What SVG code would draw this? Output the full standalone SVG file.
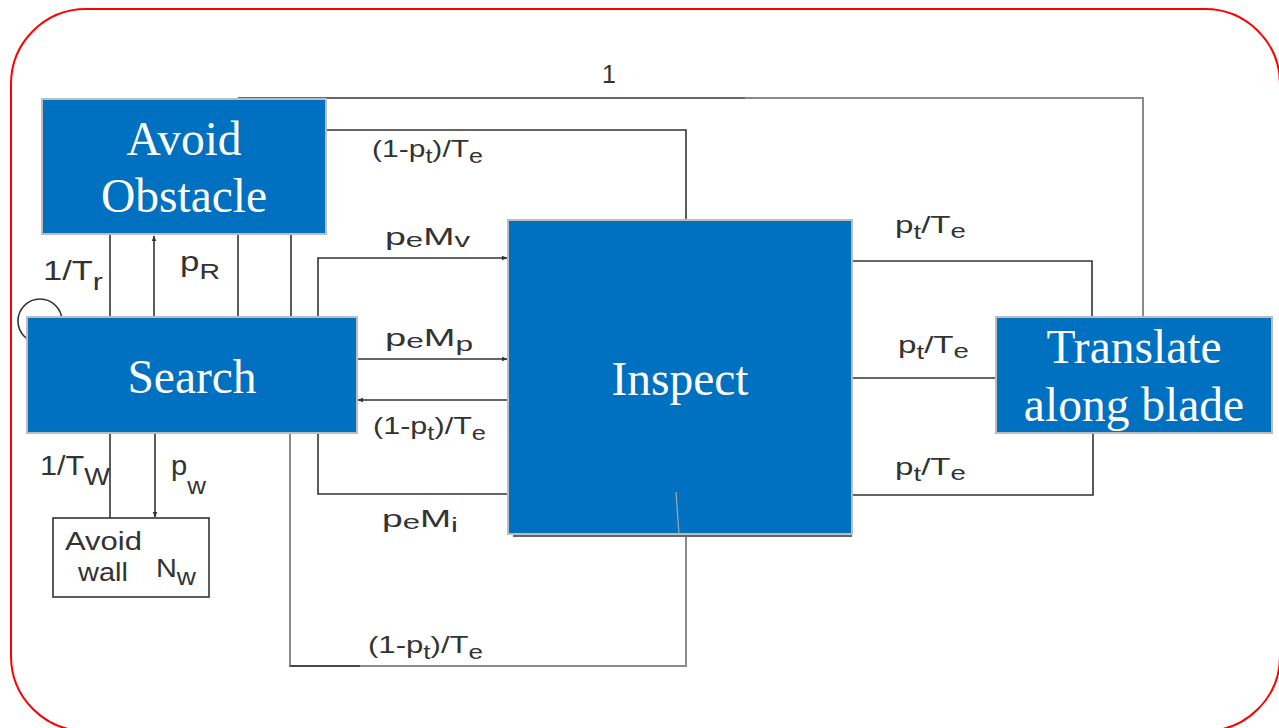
<svg xmlns="http://www.w3.org/2000/svg" width="1279" height="728" viewBox="0 0 1279 728">
<defs>
<style>
.node{fill:#0070C0;stroke:#bdbdbd;stroke-width:2}
.nt{font-family:"Liberation Serif","Times New Roman",serif;font-size:47.5px;fill:#ffffff;text-anchor:middle}
.ln{fill:none;stroke:#333;stroke-width:1.6}
.lg{fill:none;stroke:#8a8a8a;stroke-width:2}
.lb{font-family:"Liberation Sans",Arial,sans-serif;font-size:24px;fill:#333}
.s{font-size:20px}
</style>
<marker id="ah" viewBox="0 0 10 10" refX="9" refY="5" markerWidth="6" markerHeight="6" markerUnits="userSpaceOnUse" orient="auto">
<path d="M0,1 L10,5 L0,9 z" fill="#333"/>
</marker>
</defs>
<rect x="11" y="9" width="1269" height="722" rx="75" ry="75" fill="#ffffff" stroke="#ff0000" stroke-width="2"/>

<g id="connectors">
<path class="ln" d="M238 98 H745"/>
<path class="lg" d="M745 98 H1143 V317"/>
<path class="ln" d="M326 130 H686 V220"/>
<path class="ln" d="M110 234 V317"/>
<path class="ln" d="M154 317 V236" marker-end="url(#ah)"/>
<path class="ln" d="M238 234 V317"/>
<path class="ln" d="M291 234 V317"/>
<path class="ln" d="M318 317 V258 H507" marker-end="url(#ah)"/>
<path class="ln" d="M357 359 H507" marker-end="url(#ah)"/>
<path class="ln" d="M508 400 H358" marker-end="url(#ah)"/>
<path class="ln" d="M318 433 V494 H508"/>
<path class="lg" d="M290 433 V666 H686 V537"/>
<path class="ln" d="M290 666 H360"/>
<path class="ln" d="M513 536 H852"/>
<path class="ln" d="M852 261 H1092 V317"/>
<path class="ln" d="M852 378 H996"/>
<path class="ln" d="M852 495 H1093 V433"/>
<path class="ln" d="M110 433 V518"/>
<path class="ln" d="M155 433 V517" marker-end="url(#ah)"/>
<circle class="ln" cx="40" cy="321" r="22"/>
</g>

<g id="avoid-obstacle">
<rect class="node" x="42" y="99" width="284" height="135"/>
<text class="nt" x="184" y="155">Avoid</text>
<text class="nt" x="184" y="212">Obstacle</text>
</g>

<g id="search">
<rect class="node" x="27" y="317" width="330" height="116"/>
<text class="nt" x="192" y="393">Search</text>
</g>

<g id="inspect">
<rect class="node" x="508" y="220" width="344" height="314"/>
<text class="nt" x="680" y="395">Inspect</text>
<path d="M676 492 L679 534" stroke="#a8a8a8" stroke-width="1.2" fill="none"/>
</g>

<g id="translate">
<rect class="node" x="996" y="317" width="276" height="116"/>
<text class="nt" x="1134" y="363">Translate</text>
<text class="nt" x="1134" y="421">along blade</text>
</g>

<g id="avoid-wall">
<rect x="53" y="518" width="156" height="79" fill="#ffffff" stroke="#333" stroke-width="1.6"/>
<text class="lb" x="65" y="550" textLength="77" lengthAdjust="spacingAndGlyphs" style="font-size:26px">Avoid</text>
<text class="lb" x="78" y="581" textLength="50" lengthAdjust="spacingAndGlyphs" style="font-size:26px">wall</text>
<text class="lb" x="156" y="577" textLength="40" lengthAdjust="spacingAndGlyphs" style="font-size:25px">N<tspan dy="8" style="font-size:23px">w</tspan></text>
</g>

<g id="labels">
<text class="lb" x="609" y="83" text-anchor="middle" style="font-size:25px">1</text>
<text class="lb" x="372" y="157" textLength="111" lengthAdjust="spacingAndGlyphs">(1-p<tspan class="s" dy="6">t</tspan><tspan dy="-6">)/T</tspan><tspan class="s" dy="6">e</tspan></text>
<text class="lb" x="385" y="245" textLength="85" lengthAdjust="spacingAndGlyphs">p<tspan class="s" dy="2">e</tspan><tspan dy="-2">M</tspan><tspan class="s" dy="2">v</tspan></text>
<text class="lb" x="385" y="346" textLength="88" lengthAdjust="spacingAndGlyphs">p<tspan class="s" dy="2">e</tspan><tspan dy="-2">M</tspan><tspan class="s" dy="5">p</tspan></text>
<text class="lb" x="373" y="434" textLength="113" lengthAdjust="spacingAndGlyphs">(1-p<tspan class="s" dy="6">t</tspan><tspan dy="-6">)/T</tspan><tspan class="s" dy="6">e</tspan></text>
<text class="lb" x="382" y="527" textLength="76" lengthAdjust="spacingAndGlyphs">p<tspan class="s" dy="2">e</tspan><tspan dy="-2">M</tspan><tspan class="s" dy="5">i</tspan></text>
<text class="lb" x="368" y="653" textLength="115" lengthAdjust="spacingAndGlyphs">(1-p<tspan class="s" dy="6">t</tspan><tspan dy="-6">)/T</tspan><tspan class="s" dy="6">e</tspan></text>
<text class="lb" x="895" y="233" textLength="71" lengthAdjust="spacingAndGlyphs">p<tspan class="s" dy="6">t</tspan><tspan dy="-6">/T</tspan><tspan class="s" dy="5">e</tspan></text>
<text class="lb" x="898" y="353" textLength="71" lengthAdjust="spacingAndGlyphs">p<tspan class="s" dy="6">t</tspan><tspan dy="-6">/T</tspan><tspan class="s" dy="5">e</tspan></text>
<text class="lb" x="895" y="475" textLength="71" lengthAdjust="spacingAndGlyphs">p<tspan class="s" dy="6">t</tspan><tspan dy="-6">/T</tspan><tspan class="s" dy="5">e</tspan></text>
<text class="lb" x="43" y="280" textLength="60" lengthAdjust="spacingAndGlyphs" style="font-size:27px">1/T<tspan class="s" dy="10" style="font-size:24px">r</tspan></text>
<text class="lb" x="180" y="271" textLength="40" lengthAdjust="spacingAndGlyphs" style="font-size:27px">p<tspan dy="8" style="font-size:22px">R</tspan></text>
<text class="lb" x="40" y="475" textLength="70" lengthAdjust="spacingAndGlyphs" style="font-size:27px">1/T<tspan dy="10" style="font-size:24px">W</tspan></text>
<text class="lb" x="171" y="475" textLength="35" lengthAdjust="spacingAndGlyphs" style="font-size:27px">p<tspan dy="19" style="font-size:24px">w</tspan></text>
</g>
</svg>
